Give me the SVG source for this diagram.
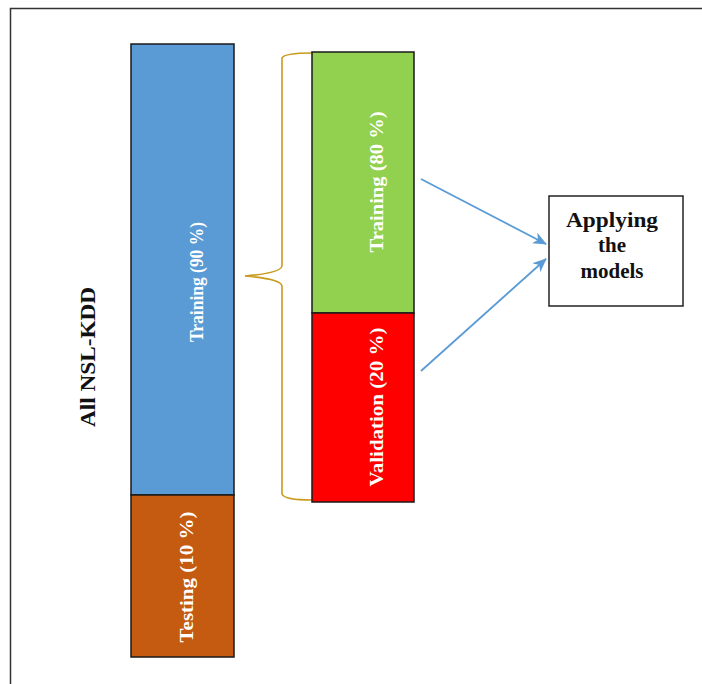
<svg xmlns="http://www.w3.org/2000/svg" width="702" height="684" viewBox="0 0 702 684">
<defs>
<style>
.box{stroke:#1a1a1a;stroke-width:1.5}
.w{fill:#fff;font-family:"Liberation Serif","Times New Roman",serif;font-weight:bold;text-anchor:middle}
.k{fill:#111;font-family:"Liberation Serif","Times New Roman",serif;font-weight:bold;text-anchor:middle}
.arr{stroke:#5b9bd5;stroke-width:1.8;fill:none;marker-end:url(#ah)}
</style>
<marker id="ah" markerWidth="14" markerHeight="12" refX="13" refY="6" orient="auto" markerUnits="userSpaceOnUse">
<path d="M0,0 L14,6 L0,12 L4,6 Z" fill="#5b9bd5"/>
</marker>
</defs>
<rect width="702" height="684" fill="#fff"/>
<path d="M10.5,684 V8.5 H702" fill="none" stroke="#333" stroke-width="1.5"/>
<g id="all-label">
<text class="k" x="95" y="357" font-size="21" transform="rotate(-90 95 357)" textLength="140" lengthAdjust="spacingAndGlyphs">All NSL-KDD</text>
</g>
<g id="training90">
<rect class="box" x="131" y="44" width="103" height="451" fill="#5b9bd5"/>
<text class="w" x="203" y="282" font-size="18" transform="rotate(-90 203 282)" textLength="120" lengthAdjust="spacingAndGlyphs">Training (90 %)</text>
</g>
<g id="testing10">
<rect class="box" x="131" y="495" width="103" height="162" fill="#c55a11"/>
<text class="w" x="193" y="577" font-size="19" transform="rotate(-90 193 577)" textLength="131" lengthAdjust="spacingAndGlyphs">Testing (10 %)</text>
</g>
<g id="brace">
<path d="M312,53 Q284,53 282,58 V266 Q281,273 245,276 Q281,279 282,286 V494 Q284,500 312,500" fill="none" stroke="#c99a1e" stroke-width="1.6"/>
</g>
<g id="training80">
<rect class="box" x="312" y="52" width="102" height="261" fill="#92d050"/>
<text class="w" x="383" y="182" font-size="19" transform="rotate(-90 383 182)" textLength="141" lengthAdjust="spacingAndGlyphs">Training (80 %)</text>
</g>
<g id="validation20">
<rect class="box" x="312" y="313" width="102" height="189" fill="#ff0000"/>
<text class="w" x="383" y="407" font-size="19" transform="rotate(-90 383 407)" textLength="159" lengthAdjust="spacingAndGlyphs">Validation (20 %)</text>
</g>
<g id="applying">
<rect x="549" y="196" width="134" height="110" fill="#fff" stroke="#222" stroke-width="1.5"/>
<text class="k" x="612" y="227" font-size="21" textLength="92" lengthAdjust="spacingAndGlyphs">Applying</text>
<text class="k" x="612" y="252" font-size="21">the</text>
<text class="k" x="612" y="278" font-size="21">models</text>
</g>
<g id="connectors">
<path class="arr" d="M421,179 L546,244"/>
<path class="arr" d="M421,371 L546,259"/>
</g>
</svg>
